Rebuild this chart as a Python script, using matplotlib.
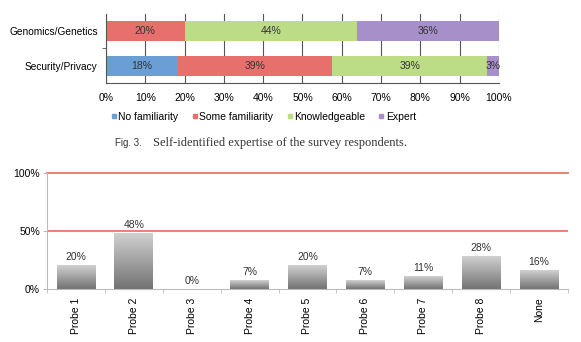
import matplotlib
matplotlib.use("Agg")
import matplotlib.pyplot as plt
import numpy as np
from matplotlib.lines import Line2D
from matplotlib.colors import LinearSegmentedColormap

plt.rcParams['font.family'] = ['Liberation Sans', 'DejaVu Sans']

# top chart data (percent of respondents)
fields = ["Security/Privacy", "Genomics/Genetics"]
levels = ["No familiarity", "Some familiarity", "Knowledgeable", "Expert"]
level_colors = ["#6a9fd6", "#e8706c", "#bcdd86", "#a78fca"]
expertise = {
    "Security/Privacy": [18, 39, 39, 3],
    "Genomics/Genetics": [0, 20, 44, 36],
}

# bottom chart data
probes = ["Probe 1", "Probe 2", "Probe 3", "Probe 4", "Probe 5",
          "Probe 6", "Probe 7", "Probe 8", "None"]
probe_pct = [20, 48, 0, 7, 20, 7, 11, 28, 16]

fig = plt.figure(figsize=(5.81, 3.42), dpi=100)

# ---- stacked horizontal bars ----
ax1 = fig.add_axes([0.1824, 0.7573, 0.6764, 0.2018])
ax1.set_axisbelow(True)
ax1.xaxis.grid(True, color="#555555", linewidth=0.8)
ax1.set_xticks(np.arange(0, 101, 10))
ax1.set_xticklabels([f"{v}%" for v in range(0, 101, 10)], fontsize=7.5)
ax1.set_xlim(0, 100)
ax1.set_ylim(-0.5, 1.5)

for j, f in enumerate(fields):
    vals = np.array(expertise[f], dtype=float)
    shares = vals / vals.sum() * 100
    left = 0
    for k, (v, s) in enumerate(zip(vals, shares)):
        if v > 0:
            ax1.barh(j, s, left=left, height=0.58, color=level_colors[k])
            ax1.text(left + s / 2, j, f"{int(v)}%", ha="center", va="center",
                     fontsize=7.5, color="#333333")
        left += s

ax1.set_yticks([0, 1])
ax1.set_yticklabels(fields, fontsize=7.3)
ax1.set_yticks([0.5], minor=True)
ax1.tick_params(axis="y", which="major", length=0, pad=6)
ax1.tick_params(axis="y", which="minor", length=3, color="#555555")
ax1.tick_params(axis="x", length=0, pad=7)
for s in ["top", "right"]:
    ax1.spines[s].set_visible(False)
ax1.spines["left"].set_color("#555555")
ax1.spines["bottom"].set_color("#555555")
ax1.spines["left"].set_linewidth(0.8)
ax1.spines["bottom"].set_linewidth(0.8)

handles = [Line2D([], [], marker="s", linestyle="", markersize=3,
                  color=c) for c in level_colors]
fig.legend(handles, levels, loc="center", bbox_to_anchor=(0.453, 0.658),
           ncol=4, frameon=False, fontsize=7.5, handletextpad=0.1,
           columnspacing=1.3, handlelength=0.6)

fig.text(0.198, 0.582, "Fig. 3.", fontsize=7.0, color="#333333", va="center")
fig.text(0.263, 0.582, "Self-identified expertise of the survey respondents.",
         fontsize=8.9, color="#333333", va="center", family="Liberation Serif")

# ---- probe bar chart ----
ax2 = fig.add_axes([0.0809, 0.155, 0.8967, 0.339])
x = np.arange(len(probes))
bars = ax2.bar(x, probe_pct, width=0.67, color="none")
gray = LinearSegmentedColormap.from_list("g", ["#737373", "#d0d0d0"])
grad = np.linspace(0, 1, 64).reshape(-1, 1)
for b in bars:
    h = b.get_height()
    if h > 0:
        ax2.imshow(grad, extent=[b.get_x(), b.get_x() + b.get_width(), 0, h],
                   origin="lower", aspect="auto", cmap=gray, zorder=2)
for xi, v in zip(x, probe_pct):
    ax2.text(xi, v + 3, f"{v}%", ha="center", va="bottom", fontsize=7.5,
             color="#333333")

ax2.axhline(50, color="#ef8070", linewidth=1.4, zorder=1)
ax2.axhline(100, color="#ef8070", linewidth=1.4, zorder=1, clip_on=False)
ax2.set_xlim(-0.5, len(probes) - 0.5)
ax2.set_ylim(0, 100)
ax2.set_yticks([0, 50, 100])
ax2.set_yticklabels(["0%", "50%", "100%"], fontsize=7.5)
ax2.set_xticks(x)
ax2.set_xticklabels(probes, rotation=90, fontsize=7.5)
ax2.set_xticks(np.arange(-0.5, len(probes)), minor=True)
ax2.tick_params(axis="x", which="major", length=0, pad=6)
ax2.tick_params(axis="x", which="minor", length=3, color="#bbbbbb")
ax2.tick_params(axis="y", length=3, color="#bbbbbb", pad=2)
for s in ["top", "right"]:
    ax2.spines[s].set_visible(False)
ax2.spines["left"].set_color("#bbbbbb")
ax2.spines["bottom"].set_color("#bbbbbb")

fig.savefig("out.png", dpi=100)
